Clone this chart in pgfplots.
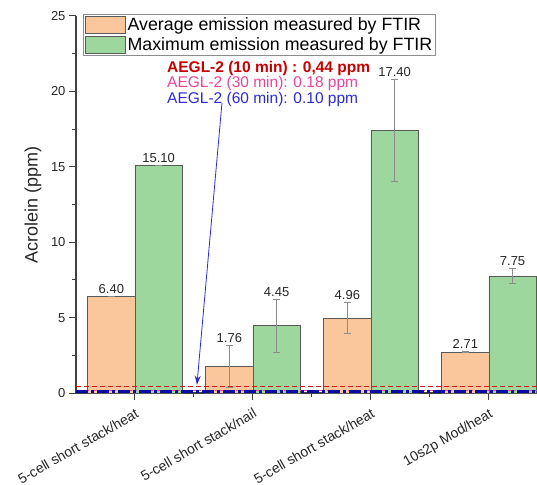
\documentclass[border=0pt]{standalone}
\usepackage{pgfplots}
\pgfplotsset{compat=1.18}
\usepackage{fontspec}
\setmainfont{Liberation Sans}
\usetikzlibrary{arrows.meta,calc}
\definecolor{avgc}{HTML}{F9C79B}
\definecolor{maxc}{HTML}{9DD79D}
\definecolor{aeglred}{HTML}{C80000}
\definecolor{aeglpink}{HTML}{E8449A}
\definecolor{aeglblue}{HTML}{2B2BD8}
\definecolor{lineblue}{HTML}{0A0AA0}
\definecolor{linered}{HTML}{D01818}
\pgfplotsset{boxlegend/.style={legend image code/.code={\draw[##1] (0bp,-8.5bp) rectangle (40bp,8.5bp);}}}

% x = bar centre (category 1..4, average bar at -0.2, maximum bar at +0.2)
\pgfplotstableread{
x    y     err
0.8  6.40  0
1.8  1.76  1.42
2.8  4.96  1.03
3.8  2.71  0.05
}\avgdata
\pgfplotstableread{
x    y     err
1.2  15.10 0
2.2  4.45  1.79
3.2  17.40 3.38
4.2  7.75  0.50
}\maxdata
\pgfplotstableread{
x    top    lab
0.8  6.40   6.40
1.8  3.18   1.76
2.8  5.99   4.96
3.8  2.76   2.71
1.2  15.10  15.10
2.2  6.24   4.45
3.2  20.78  17.40
4.2  8.25   7.75
}\labdata

\begin{document}
\begin{tikzpicture}
\begin{axis}[
  name=ax,
  scale only axis, width=461bp, height=377bp,
  xmin=0.5, xmax=4.407, ymin=0, ymax=25,
  clip=false,
  axis x line*=bottom, axis y line*=left,
  axis line style={line width=1.3bp, color=black!75},
  xtick={1,2,3,4},
  xticklabels={5-cell short stack/heat, 5-cell short stack/nail, 5-cell short stack/heat, 10s2p Mod/heat},
  minor xtick={1.5,2.5,3.5},
  ytick={0,5,...,25}, minor ytick={2.5,7.5,...,22.5},
  tick align=outside,
  major tick length=7bp, minor tick length=4bp,
  every tick/.style={line width=1bp, color=black!75},
  /pgf/number format/assume math mode=true,
  tick label style={font=\fontsize{13bp}{15bp}\selectfont, color=black!85},
  xticklabel style={xshift=0bp, yshift=-6bp, rotate=30, anchor=north east, inner sep=1bp, font=\fontsize{14bp}{16bp}\selectfont},
  ylabel={Acrolein (ppm)},
  every axis y label/.style={at={(rel axis cs:0,0.5)}, xshift=-43bp, rotate=90, anchor=center, font=\fontsize{18bp}{20bp}\selectfont, color=black!85},
  legend style={at={(0.015,1.005)}, anchor=north west, draw=black!45, line width=0.8bp,
    font=\fontsize{17.8bp}{19bp}\selectfont, inner sep=1.5bp, row sep=1bp, cells={anchor=west}},
  legend cell align=left,
]
\addplot[ybar, bar width=0.4, bar shift=0pt, fill=avgc, draw=black!65, line width=0.8bp, boxlegend,
  error bars/.cd, y dir=both, y explicit,
  error bar style={color=black!45, line width=0.8bp},
  error mark options={rotate=90, mark size=3.5bp, color=black!45, line width=0.8bp}]
  table[x=x, y=y, y error=err] {\avgdata};
\addlegendentry{Average emission measured by FTIR}
\addplot[ybar, bar width=0.4, bar shift=0pt, fill=maxc, draw=black!65, line width=0.8bp, boxlegend,
  error bars/.cd, y dir=both, y explicit,
  error bar style={color=black!45, line width=0.8bp},
  error mark options={rotate=90, mark size=3.5bp, color=black!45, line width=0.8bp}]
  table[x=x, y=y, y error=err] {\maxdata};
\addlegendentry{Maximum emission measured by FTIR}

\addplot[forget plot, linered, line width=1bp, dash pattern=on 5bp off 3bp] coordinates {(0.5,0.44) (4.407,0.44)};
\addplot[forget plot, aeglpink, line width=1bp, dash pattern=on 8bp off 3bp on 2bp off 3bp] coordinates {(0.5,0.18) (4.407,0.18)};
\addplot[forget plot, lineblue, line width=2.6bp, dash pattern=on 12bp off 3bp on 3bp off 3bp] coordinates {(0.5,0.10) (4.407,0.10)};

\addplot[forget plot, draw=none, mark=none, nodes near coords, point meta=explicit symbolic,
  nodes near coords style={font=\fontsize{13bp}{15bp}\selectfont, anchor=south, inner sep=2.5bp, color=black!85}]
  table[x=x, y=top, meta=lab] {\labdata};

\draw[aeglblue, line width=0.8bp, -{Stealth[length=9bp, width=6bp]}] (axis cs:1.737,19.23) -- (axis cs:1.525,0.55);

\node[anchor=base west, text=aeglred, inner sep=0pt, font=\bfseries\fontsize{15.5bp}{15.5bp}\selectfont] at (axis cs:1.271,21.27) {AEGL-2 (10 min) : 0,44 ppm};
\node[anchor=base west, text=aeglpink, inner sep=0pt, font=\fontsize{15.5bp}{15.5bp}\selectfont] at (axis cs:1.271,20.26) {AEGL-2 (30 min): 0.18 ppm};
\node[anchor=base west, text=aeglblue, inner sep=0pt, font=\fontsize{15.5bp}{15.5bp}\selectfont] at (axis cs:1.271,19.23) {AEGL-2 (60 min): 0.10 ppm};
\end{axis}
\pgfresetboundingbox
\path ($(ax.south west)+(-76bp,-92bp)$) rectangle ($(ax.north east)+(0bp,16bp)$);
\end{tikzpicture}
\end{document}
